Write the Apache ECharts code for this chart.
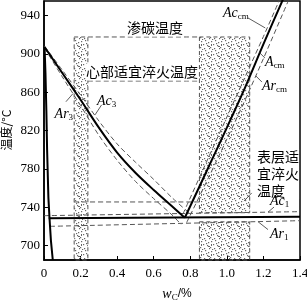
<!DOCTYPE html>
<html>
<head>
<meta charset="utf-8">
<script src="https://cdn.jsdelivr.net/npm/echarts@6/dist/echarts.min.js"></script>
<style>
* { margin: 0; padding: 0; }
body { background: #fff; }
</style>
</head>
<body>
<div id="main" style="width:307px;height:301px;background:white;"></div>
<script>
// 钢的临界点示意（实线：平衡，虚线：加热 Ac / 冷却 Ar）
var yTicks = [700, 740, 780, 820, 860, 900, 940];

var lineA3   = [[0.003, 907], [0.1, 880], [0.2, 852], [0.3, 823], [0.4, 797], [0.5, 776], [0.6, 758], [0.7, 741], [0.77, 729]];
var lineAc3  = [[0.003, 908], [0.1, 883], [0.2, 857], [0.3, 830], [0.4, 806], [0.5, 787], [0.6, 769], [0.7, 750], [0.8, 733]];
var lineAr3  = [[0.003, 906], [0.1, 876], [0.2, 846], [0.3, 815], [0.4, 789], [0.5, 767], [0.6, 749], [0.7, 732], [0.75, 722]];
var lineAcm  = [[0.77, 729], [0.9, 782], [1.0, 823], [1.1, 865], [1.2, 910], [1.31, 958]];
var lineAccm = [[0.76, 733], [0.9, 792], [1.0, 834], [1.1, 876], [1.2, 918], [1.29, 957]];
var lineArcm = [[0.78, 724], [0.9, 771], [1.0, 811], [1.1, 852], [1.2, 895], [1.34, 957]];
var lineGP   = [[0.003, 907], [0.008, 880], [0.013, 840], [0.017, 800], [0.024, 750], [0.03, 729], [0.038, 705], [0.048, 685]];
var lineA1   = [[0.026, 728.5], [1.4, 730.2]];
var lineAc1  = [[0, 731.2], [1.4, 735.4]];
var lineAr1  = [[0.033, 720.1], [1.4, 726]];

// 温度范围框 [x0, x1, y0, y1]
var zoneBoxes = [[0.165, 0.24, 685, 917.5], [0.85, 1.125, 734.3, 917.5], [0.85, 1.125, 685, 724.8]];
var zoneLines = [
  [[0.24, 917.5], [0.85, 917.5]],
  [[0.24, 871.6], [0.85, 871.6]],
  [[0.165, 745.5], [0.85, 745.5]]
];
// 引线
var leaders = [
  [[1.116, 937.3], [1.21, 926.9]],
  [[1.178, 901.3], [1.208, 895.6]],
  [[1.159, 876.8], [1.192, 870.5]],
  [[0.279, 836.3], [0.315, 846.7]],
  [[0.158, 858.4], [0.12, 850]],
  [[1.225, 734.9], [1.258, 740.2]],
  [[1.17, 725], [1.225, 716.7]],
  [[1.136, 754.9], [1.094, 746.4]]
];
var notes = [
  { pos: [0.607, 926.9], text: '渗碳温度', align: 'center' },
  { pos: [0.536, 881], text: '心部适宜淬火温度', align: 'center' },
  { pos: [1.165, 774.7], text: '表层适\n宜淬火\n温度', align: 'left' },
  { pos: [0.979, 942.5], text: '{i|Ac}{s|cm}', align: 'left' },
  { pos: [1.209, 891.4], text: '{i|A}{s|cm}', align: 'left' },
  { pos: [1.192, 866.4], text: '{i|Ar}{s|cm}', align: 'left' },
  { pos: [0.29, 850.8], text: '{i|Ac}{s|3}', align: 'left' },
  { pos: [0.058, 837.3], text: '{i|Ar}{s|3}', align: 'left' },
  { pos: [1.236, 746.4], text: '{i|Ac}{s|1}', align: 'left' },
  { pos: [1.236, 712.2], text: '{i|Ar}{s|1}', align: 'left' }
];

var serif = '"Liberation Serif", "DejaVu Serif", serif';
var cjk = '"Noto Sans CJK SC", sans-serif';
var richText = {
  i: { fontFamily: serif, fontStyle: 'italic', fontSize: 14, lineHeight: 16, fill: '#000' },
  s: { fontFamily: serif, fontSize: 9, lineHeight: 16, verticalAlign: 'bottom', padding: [9, 0, 0, 0], fill: '#000' }
};

// 点状填充
var pat = document.createElement('canvas');
pat.width = 10; pat.height = 10;
var pc = pat.getContext('2d');
pc.fillStyle = '#666';
[[1, 1], [5, 0], [8, 2], [3, 4], [7, 5], [0, 7], [4, 8], [9, 8], [2, 9], [6, 3]].forEach(function (d) {
  pc.fillRect(d[0], d[1], 1.2, 1.2);
});
pc.fillRect(8, 6, 2, 1); pc.fillRect(1, 4, 1, 2);

function solid(name, data, smooth) {
  return { name: name, type: 'line', data: data, symbol: 'none', smooth: smooth, silent: true, z: 4,
    lineStyle: { color: '#000', width: 2 } };
}
function dashed(name, data, z) {
  return { name: name, type: 'line', data: data, symbol: 'none', smooth: 0.3, silent: true, z: z || 3,
    lineStyle: { color: '#555', width: 1, type: [5, 3] } };
}

var series = [
  {
    type: 'custom', name: 'zones', silent: true, z: 1,
    data: zoneBoxes,
    renderItem: function (params, api) {
      var p0 = api.coord([api.value(0), api.value(3)]);
      var p1 = api.coord([api.value(1), api.value(2)]);
      return {
        type: 'rect',
        shape: { x: p0[0], y: p0[1], width: p1[0] - p0[0], height: p1[1] - p0[1] },
        style: { fill: { image: pat, repeat: 'repeat' }, stroke: '#555', lineWidth: 1, lineDash: [4, 3] }
      };
    }
  },
  solid('GP', lineGP, false),
  solid('A3', lineA3, 0.3),
  solid('Acm', lineAcm, 0.3),
  solid('A1', lineA1, false),
  dashed('Ac3', lineAc3),
  dashed('Ar3', lineAr3),
  dashed('Accm', lineAccm),
  dashed('Arcm', lineArcm),
  dashed('Ac1', lineAc1),
  dashed('Ar1', lineAr1)
];
zoneLines.forEach(function (l, k) { series.push(dashed('zone' + k, l, 2)); });
leaders.forEach(function (l, k) {
  series.push({ name: 'lead' + k, type: 'line', data: l, symbol: 'none', silent: true, z: 5,
    lineStyle: { color: '#333', width: 0.8 } });
});
series.push({
  type: 'custom', name: 'notes', silent: true, z: 6, clip: false,
  data: notes.map(function (n) { return n.pos; }),
  renderItem: function (params, api) {
    var p = api.coord([api.value(0), api.value(1)]);
    var n = notes[params.dataIndex];
    return {
      type: 'text', x: p[0], y: p[1],
      style: { text: n.text, rich: richText, align: n.align, verticalAlign: 'middle',
        fontFamily: cjk, fontSize: 14, lineHeight: 17, fill: '#000',
        backgroundColor: n.text.charAt(0) === '{' ? 'transparent' : '#fff' }
    };
  }
});
// 纵轴刻度文字（按纵轴比例尺定位）
series.push({
  type: 'custom', name: 'yLabels', silent: true, z: 6, clip: false,
  data: yTicks.map(function (v) { return [0, v]; }),
  renderItem: function (params, api) {
    var p = api.coord([api.value(0), api.value(1)]);
    return {
      type: 'text', x: p[0] - 4, y: p[1],
      style: { text: String(api.value(1)), align: 'right', verticalAlign: 'middle',
        fontFamily: serif, fontSize: 13, fill: '#000' }
    };
  }
});

var chart = echarts.init(document.getElementById('main'));
chart.setOption({
  animation: false,
  grid: { left: 44, right: 7, top: 1, bottom: 41, outerBoundsMode: 'none', containLabel: false,
    show: true, borderColor: '#000', borderWidth: 1.5 },
  // 纵轴标题
  graphic: [{
    type: 'text', x: 6, y: 130, rotation: Math.PI / 2, silent: true,
    style: { text: '温度/°C', align: 'center', verticalAlign: 'middle', fontFamily: cjk, fontSize: 12, fill: '#000' }
  }],
  xAxis: {
    type: 'value', min: 0, max: 1.4, interval: 0.2,
    name: '{i|w}{s|C}/%', nameLocation: 'middle', nameGap: 15,
    nameTextStyle: { padding: [0, 0, 0, 10], rich: {
      i: { fontFamily: serif, fontStyle: 'italic', fontSize: 14, lineHeight: 16, color: '#000' },
      s: { fontFamily: serif, fontSize: 9, lineHeight: 16, verticalAlign: 'bottom', padding: [8, 0, 0, 0], color: '#000' }
    } },
    axisLine: { lineStyle: { color: '#000', width: 1.5 } },
    axisTick: { inside: true, length: 4, lineStyle: { color: '#000' } },
    axisLabel: { color: '#000', fontFamily: serif, fontSize: 13, margin: 7,
      formatter: function (v) { return v === 0 ? '0' : v.toFixed(1); } },
    splitLine: { show: false }
  },
  yAxis: {
    type: 'value', min: 685, max: 955,
    axisLine: { lineStyle: { color: '#000', width: 1.5 } },
    axisTick: { inside: true, length: 4, customValues: yTicks, lineStyle: { color: '#000' } },
    axisLabel: { show: false },
    splitLine: { show: false }
  },
  series: series
});
</script>
</body>
</html>
